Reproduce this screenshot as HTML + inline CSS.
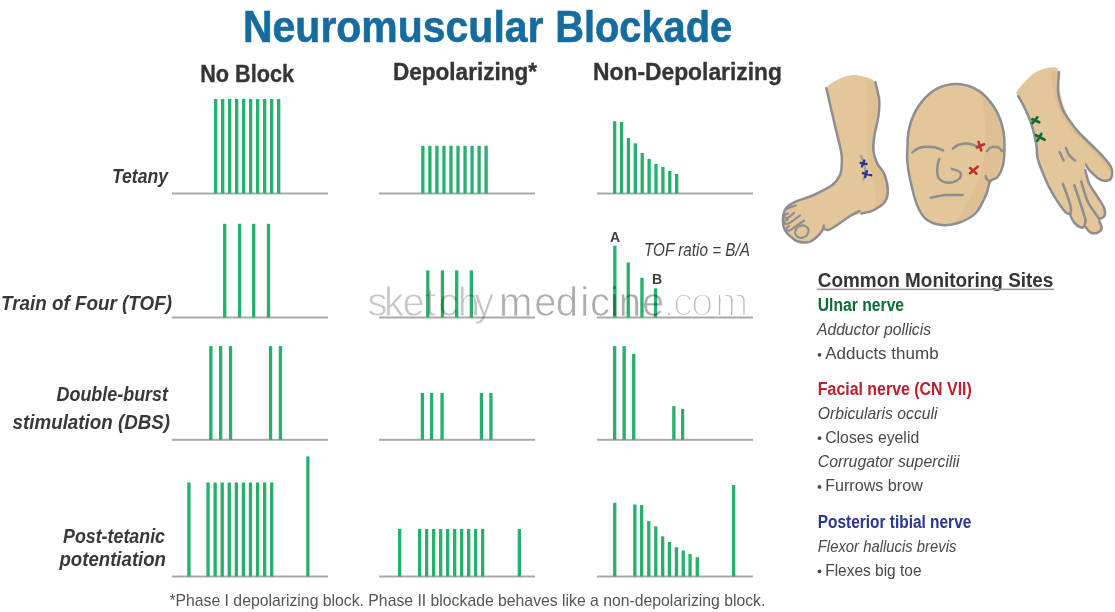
<!DOCTYPE html>
<html><head><meta charset="utf-8">
<style>
html,body{margin:0;padding:0;background:#fff;}
body{width:1115px;height:612px;overflow:hidden;}
svg{display:block;}
text{font-family:"Liberation Sans",sans-serif;}
</style></head>
<body>
<svg width="1115" height="612" viewBox="0 0 1115 612">
<rect width="1115" height="612" fill="#fff"/>
<!-- title -->
<g font-size="44" font-weight="bold" fill="#166c9f" stroke="#166c9f" stroke-width="0.6"><text x="243" y="42" textLength="300.5" lengthAdjust="spacingAndGlyphs">Neuromuscular</text><text x="555.2" y="42" textLength="177" lengthAdjust="spacingAndGlyphs">Blockade</text></g>
<!-- column headers -->
<g fill="#353538" stroke="#353538" stroke-width="0.35" font-weight="bold" font-size="23.5">
<text x="200.2" y="82" textLength="94" lengthAdjust="spacingAndGlyphs">No Block</text>
<text x="393" y="80" textLength="144" lengthAdjust="spacingAndGlyphs">Depolarizing*</text>
<text x="593" y="80" textLength="189" lengthAdjust="spacingAndGlyphs">Non-Depolarizing</text>
</g>
<!-- row labels -->
<g fill="#38383b" font-weight="bold" font-style="italic" font-size="20.5">
<text x="112" y="183" textLength="56" lengthAdjust="spacingAndGlyphs">Tetany</text>
<text x="1" y="310" textLength="171" lengthAdjust="spacingAndGlyphs">Train of Four (TOF)</text>
<text x="56.5" y="401" textLength="111.5" lengthAdjust="spacingAndGlyphs">Double-burst</text>
<text x="12.6" y="429" textLength="157.4" lengthAdjust="spacingAndGlyphs">stimulation (DBS)</text>
<text x="63" y="542.8" textLength="102" lengthAdjust="spacingAndGlyphs">Post-tetanic</text>
<text x="59.5" y="566.4" textLength="106.5" lengthAdjust="spacingAndGlyphs">potentiation</text>
</g>
<!-- baselines -->
<g fill="#a7a9ac">
<rect x="172" y="192.50" width="156" height="2"/>
<rect x="379" y="192.50" width="156" height="2"/>
<rect x="597" y="192.50" width="156" height="2"/>
<rect x="172" y="316.50" width="156" height="2"/>
<rect x="379" y="316.50" width="156" height="2"/>
<rect x="597" y="316.50" width="156" height="2"/>
<rect x="172" y="438.80" width="156" height="2"/>
<rect x="379" y="438.80" width="156" height="2"/>
<rect x="597" y="438.80" width="156" height="2"/>
<rect x="172" y="575.50" width="156" height="2"/>
<rect x="379" y="575.50" width="156" height="2"/>
<rect x="597" y="575.50" width="156" height="2"/>
</g>
<!-- bars -->
<g fill="#25b06b">
<rect x="214.00" y="99.00" width="3.3" height="94.50"/>
<rect x="221.00" y="99.00" width="3.3" height="94.50"/>
<rect x="228.00" y="99.00" width="3.3" height="94.50"/>
<rect x="235.00" y="99.00" width="3.3" height="94.50"/>
<rect x="242.00" y="99.00" width="3.3" height="94.50"/>
<rect x="249.00" y="99.00" width="3.3" height="94.50"/>
<rect x="256.00" y="99.00" width="3.3" height="94.50"/>
<rect x="263.00" y="99.00" width="3.3" height="94.50"/>
<rect x="270.00" y="99.00" width="3.3" height="94.50"/>
<rect x="277.00" y="99.00" width="3.3" height="94.50"/>
<rect x="421.20" y="145.80" width="3.3" height="47.70"/>
<rect x="428.23" y="145.80" width="3.3" height="47.70"/>
<rect x="435.26" y="145.80" width="3.3" height="47.70"/>
<rect x="442.29" y="145.80" width="3.3" height="47.70"/>
<rect x="449.32" y="145.80" width="3.3" height="47.70"/>
<rect x="456.35" y="145.80" width="3.3" height="47.70"/>
<rect x="463.38" y="145.80" width="3.3" height="47.70"/>
<rect x="470.41" y="145.80" width="3.3" height="47.70"/>
<rect x="477.44" y="145.80" width="3.3" height="47.70"/>
<rect x="484.47" y="145.80" width="3.3" height="47.70"/>
<rect x="613.00" y="121.25" width="3.3" height="72.25"/>
<rect x="619.89" y="122.00" width="3.3" height="71.50"/>
<rect x="626.78" y="138.00" width="3.3" height="55.50"/>
<rect x="633.67" y="143.30" width="3.3" height="50.20"/>
<rect x="640.56" y="153.00" width="3.3" height="40.50"/>
<rect x="647.45" y="159.00" width="3.3" height="34.50"/>
<rect x="654.34" y="164.00" width="3.3" height="29.50"/>
<rect x="661.23" y="167.00" width="3.3" height="26.50"/>
<rect x="668.12" y="171.00" width="3.3" height="22.50"/>
<rect x="675.01" y="174.00" width="3.3" height="19.50"/>
<rect x="223.05" y="223.80" width="3.3" height="93.70"/>
<rect x="237.90" y="223.80" width="3.3" height="93.70"/>
<rect x="252.05" y="223.80" width="3.3" height="93.70"/>
<rect x="266.85" y="223.80" width="3.3" height="93.70"/>
<rect x="426.15" y="270.40" width="3.3" height="47.10"/>
<rect x="440.80" y="270.40" width="3.3" height="47.10"/>
<rect x="455.05" y="270.40" width="3.3" height="47.10"/>
<rect x="469.70" y="270.40" width="3.3" height="47.10"/>
<rect x="613.20" y="245.70" width="3.3" height="71.80"/>
<rect x="626.60" y="262.50" width="3.3" height="55.00"/>
<rect x="640.30" y="277.80" width="3.3" height="39.70"/>
<rect x="653.90" y="288.40" width="3.3" height="29.10"/>
<rect x="209.20" y="346.10" width="3.3" height="93.70"/>
<rect x="219.00" y="346.10" width="3.3" height="93.70"/>
<rect x="228.90" y="346.10" width="3.3" height="93.70"/>
<rect x="268.90" y="346.10" width="3.3" height="93.70"/>
<rect x="278.80" y="346.10" width="3.3" height="93.70"/>
<rect x="420.70" y="393.00" width="3.3" height="46.80"/>
<rect x="429.90" y="393.00" width="3.3" height="46.80"/>
<rect x="440.40" y="393.00" width="3.3" height="46.80"/>
<rect x="479.80" y="393.00" width="3.3" height="46.80"/>
<rect x="489.30" y="393.00" width="3.3" height="46.80"/>
<rect x="613.00" y="346.10" width="3.3" height="93.70"/>
<rect x="622.50" y="346.10" width="3.3" height="93.70"/>
<rect x="632.06" y="353.90" width="3.3" height="85.90"/>
<rect x="672.20" y="406.10" width="3.3" height="33.70"/>
<rect x="681.00" y="409.00" width="3.3" height="30.80"/>
<rect x="187.30" y="482.50" width="3.3" height="94.00"/>
<rect x="206.40" y="482.50" width="3.3" height="94.00"/>
<rect x="213.47" y="482.50" width="3.3" height="94.00"/>
<rect x="220.54" y="482.50" width="3.3" height="94.00"/>
<rect x="227.61" y="482.50" width="3.3" height="94.00"/>
<rect x="234.68" y="482.50" width="3.3" height="94.00"/>
<rect x="241.75" y="482.50" width="3.3" height="94.00"/>
<rect x="248.82" y="482.50" width="3.3" height="94.00"/>
<rect x="255.89" y="482.50" width="3.3" height="94.00"/>
<rect x="262.96" y="482.50" width="3.3" height="94.00"/>
<rect x="270.03" y="482.50" width="3.3" height="94.00"/>
<rect x="306.20" y="456.50" width="3.3" height="120.00"/>
<rect x="398.00" y="529.00" width="3.3" height="47.50"/>
<rect x="418.00" y="529.00" width="3.3" height="47.50"/>
<rect x="425.00" y="529.00" width="3.3" height="47.50"/>
<rect x="432.00" y="529.00" width="3.3" height="47.50"/>
<rect x="439.00" y="529.00" width="3.3" height="47.50"/>
<rect x="446.00" y="529.00" width="3.3" height="47.50"/>
<rect x="453.00" y="529.00" width="3.3" height="47.50"/>
<rect x="460.00" y="529.00" width="3.3" height="47.50"/>
<rect x="467.00" y="529.00" width="3.3" height="47.50"/>
<rect x="474.00" y="529.00" width="3.3" height="47.50"/>
<rect x="481.00" y="529.00" width="3.3" height="47.50"/>
<rect x="517.70" y="529.00" width="3.3" height="47.50"/>
<rect x="613.10" y="502.80" width="3.3" height="73.70"/>
<rect x="633.20" y="504.50" width="3.3" height="72.00"/>
<rect x="640.00" y="505.10" width="3.3" height="71.40"/>
<rect x="647.10" y="521.10" width="3.3" height="55.40"/>
<rect x="654.10" y="526.30" width="3.3" height="50.20"/>
<rect x="661.00" y="536.40" width="3.3" height="40.10"/>
<rect x="667.80" y="542.00" width="3.3" height="34.50"/>
<rect x="674.80" y="547.20" width="3.3" height="29.30"/>
<rect x="681.60" y="550.50" width="3.3" height="26.00"/>
<rect x="688.40" y="554.10" width="3.3" height="22.40"/>
<rect x="695.60" y="557.20" width="3.3" height="19.30"/>
<rect x="732.00" y="485.00" width="3.3" height="91.50"/>
</g>
<!-- watermark -->
<g style="mix-blend-mode:multiply" font-size="40" stroke="#fff"><text x="367.5 384.0 402.4 425.1 438.5 457.8 473.9" y="316" fill="#c5c5c5" stroke-width="0.8">sketchy</text><text x="498.9 534.3 555.8 580.3 590.1 610.0 618.7 641.9" y="316" fill="#acacac" stroke-width="0.7">medicine</text><text x="663.5 672.9 691.1 715.0" y="316" fill="#bababa" stroke-width="2.1">.com</text></g>
<!-- TOF labels -->
<g fill="#3f3f42" font-weight="bold" font-size="14">
<text x="610" y="242">A</text>
<text x="652" y="283.5">B</text>
</g>
<text x="644" y="255.5" font-size="18" font-style="italic" fill="#3f3f42" textLength="106" lengthAdjust="spacingAndGlyphs">TOF ratio = B/A</text>
<!-- illustrations -->
<path d="M826.4,88.3 C827.8,84.4 833.9,81.7 838.0,79.5 C842.1,77.3 846.7,75.7 850.9,75.2 C855.1,74.7 858.9,75.3 863.0,76.5 C867.1,77.7 872.7,78.3 875.4,82.2 C878.1,86.1 878.7,94.4 879.2,100.0 C879.7,105.6 879.3,109.8 878.5,115.7 C877.7,121.6 875.4,129.6 874.5,135.3 C873.6,141.0 872.9,145.4 873.3,150.0 C873.7,154.6 875.1,158.9 877.0,163.0 C878.9,167.1 882.7,169.8 884.5,174.5 C886.3,179.2 887.8,186.3 887.8,190.9 C887.8,195.5 887.0,199.0 884.5,202.3 C882.0,205.6 879.0,208.1 873.0,210.5 C867.0,212.9 854.5,214.6 848.6,217.0 C842.7,219.4 840.8,222.6 837.5,224.7 C834.2,226.8 831.5,228.8 829.0,229.8 C826.5,230.8 824.3,229.4 822.2,230.7 C820.1,232.0 818.2,235.7 816.2,237.5 C814.2,239.3 812.4,240.8 810.3,241.7 C808.2,242.5 805.8,242.7 803.5,242.6 C801.2,242.5 798.6,241.8 796.7,241.0 C794.8,240.2 793.7,239.1 792.1,237.8 C790.5,236.5 788.3,234.7 786.9,233.0 C785.5,231.3 784.4,229.5 783.8,227.5 C783.1,225.5 783.1,223.2 783.0,221.1 C782.9,219.0 782.7,217.2 783.3,215.0 C783.9,212.8 784.5,209.9 786.5,207.7 C788.5,205.5 790.5,203.9 795.0,201.8 C799.5,199.7 807.5,197.8 813.7,195.0 C819.9,192.2 827.8,188.5 832.2,185.1 C836.6,181.7 838.6,178.2 840.2,174.5 C841.8,170.8 841.6,166.8 841.8,163.0 C841.9,159.2 842.3,158.1 841.1,151.6 C839.9,145.1 836.5,132.1 834.6,123.9 C832.7,115.8 831.1,108.6 829.7,102.7 C828.3,96.8 825.0,92.2 826.4,88.3Z" fill="#e4c69b"/>
<path d="M865,79 C870,100 866,130 867,150 C870,175 880,195 874,210 L884,203 C890,190 886,172 876,160 C872,140 881,110 876,82Z" fill="#d9b98e" opacity="0.5"/>
<path d="M875.4,82.2 C876.0,85.2 878.7,94.4 879.2,100.0 C879.7,105.6 879.3,109.8 878.5,115.7 C877.7,121.6 875.4,129.6 874.5,135.3 C873.6,141.0 872.9,145.4 873.3,150.0 C873.7,154.6 875.1,158.9 877.0,163.0 C878.9,167.1 882.7,169.8 884.5,174.5 C886.3,179.2 887.8,186.3 887.8,190.9 C887.8,195.5 887.0,199.0 884.5,202.3 C882.0,205.6 876.8,208.6 873.0,210.5 C869.2,212.4 863.4,213.0 861.5,213.5" fill="none" stroke="#8e8e90" stroke-width="2.5" stroke-linecap="round" stroke-linejoin="round"/>
<path d="M859.5,211.0 C857.7,212.0 852.3,214.7 848.6,217.0 C844.9,219.3 840.8,222.6 837.5,224.7 C834.2,226.8 831.2,229.1 829.0,229.8 C826.8,230.5 825.1,229.1 824.3,229.0" fill="none" stroke="#8e8e90" stroke-width="2.5" stroke-linecap="round" stroke-linejoin="round"/>
<path d="M823.9,225.6 C823.6,226.4 823.5,228.7 822.2,230.7 C820.9,232.7 818.2,235.7 816.2,237.5 C814.2,239.3 812.4,240.8 810.3,241.7 C808.2,242.5 805.8,242.7 803.5,242.6 C801.2,242.5 798.6,241.8 796.7,241.0 C794.8,240.2 793.7,239.1 792.1,237.8 C790.5,236.5 788.3,234.7 786.9,233.0 C785.5,231.3 784.4,229.5 783.8,227.5 C783.1,225.5 783.1,223.2 783.0,221.1 C782.9,219.0 782.7,217.2 783.3,215.0 C783.9,212.8 784.5,209.9 786.5,207.7 C788.5,205.5 790.5,203.9 795.0,201.8 C799.5,199.7 807.5,197.8 813.7,195.0 C819.9,192.2 827.8,188.5 832.2,185.1 C836.6,181.7 838.6,178.2 840.2,174.5 C841.8,170.8 841.6,166.8 841.8,163.0 C841.9,159.2 842.3,158.1 841.1,151.6 C839.9,145.1 836.5,132.1 834.6,123.9 C832.7,115.8 831.1,108.6 829.7,102.7 C828.3,96.8 827.0,90.7 826.4,88.3" fill="none" stroke="#8e8e90" stroke-width="2.5" stroke-linecap="round" stroke-linejoin="round"/>
<path d="M786.7,209.0 C787.4,208.7 789.5,207.6 791.0,207.0 C792.5,206.4 794.9,205.7 795.7,205.4" fill="none" stroke="#8e8e90" stroke-width="2.1" stroke-linecap="round" stroke-linejoin="round"/>
<path d="M788.0,213.6 C787.5,213.8 785.9,214.1 785.3,214.6 C784.7,215.1 784.2,216.0 784.4,216.6 C784.5,217.2 785.4,218.0 786.2,218.0 C787.1,218.0 788.2,217.7 789.5,216.8 C790.8,215.9 793.4,213.4 794.2,212.7" fill="none" stroke="#8e8e90" stroke-width="2.1" stroke-linecap="round" stroke-linejoin="round"/>
<path d="M787.8,219.6 C787.3,219.8 785.2,220.4 784.6,221.0 C784.0,221.6 783.9,222.7 784.3,223.2 C784.7,223.7 785.8,224.3 787.2,223.9 C788.7,223.5 790.9,222.0 793.0,220.6 C795.1,219.2 798.8,216.3 800.0,215.4" fill="none" stroke="#8e8e90" stroke-width="2.1" stroke-linecap="round" stroke-linejoin="round"/>
<path d="M789.2,226.0 C788.8,226.3 786.8,227.2 786.5,228.0 C786.2,228.8 786.9,230.3 787.6,230.6 C788.4,230.9 789.4,230.7 791.0,229.8 C792.6,228.9 795.3,226.6 797.5,225.0 C799.7,223.4 803.1,221.2 804.2,220.5" fill="none" stroke="#8e8e90" stroke-width="2.1" stroke-linecap="round" stroke-linejoin="round"/>
<ellipse cx="801.8" cy="231.6" rx="7.0" ry="6.0" transform="rotate(-30 801.8 231.6)" fill="none" stroke="#8e8e90" stroke-width="2.1"/>
<path d="M861.2,155.7 C861.6,156.9 862.8,160.8 863.5,163.0 C864.2,165.2 865.0,166.9 865.2,168.9 C865.4,170.9 865.1,173.2 864.8,175.0 C864.5,176.8 863.6,178.9 863.4,179.7" fill="none" stroke="#9d9d9f" stroke-width="2.2" stroke-linecap="round" stroke-linejoin="round"/>
<path d="M860.6,162.9 L866.6,164 M864.3,160.6 L862,166.3" stroke="#2a3391" stroke-width="2.4" stroke-linecap="round" fill="none"/>
<path d="M862.9,173.2 L871.2,175.2 M866.9,171.2 L865.2,176.9" stroke="#2a3391" stroke-width="2.4" stroke-linecap="round" fill="none"/>
<path d="M907.5,145 A48.5,61 0 0 1 1004.5,145 C1004.5,149.3 1004.5,152.5 1004.2,156.0 C1003.9,159.5 1003.9,162.5 1002.8,166.0 C1001.7,169.5 999.6,174.4 997.5,177.0 C995.4,179.6 992.0,178.5 990.1,181.4 C988.2,184.3 988.6,189.1 986.2,194.4 C983.8,199.7 980.4,208.3 975.8,213.0 C971.2,217.7 964.5,220.8 958.8,222.8 C953.1,224.8 947.2,225.6 941.8,225.0 C936.3,224.4 930.2,222.5 926.1,219.2 C922.0,215.8 919.7,211.8 917.0,204.9 C914.3,198.0 911.4,185.5 909.8,178.0 C908.2,170.5 907.6,165.5 907.2,160.0 C906.8,154.5 907.5,150.0 907.5,145.0Z" fill="#e4c69b"/>
<path d="M978,88 C996,100 1004,125 1003,150 C1001,170 990,182 984,200 C978,212 968,220 955,223 C970,200 982,180 985,150 C987,125 985,105 978,88Z" fill="#d9b98e" opacity="0.5"/>
<path d="M907.5,145 A48.5,61 0 0 1 1004.5,145 C1004.5,149.3 1004.5,152.5 1004.2,156.0 C1003.9,159.5 1003.9,162.5 1002.8,166.0 C1001.7,169.5 999.6,174.4 997.5,177.0 C995.4,179.6 992.0,178.5 990.1,181.4 C988.2,184.3 988.6,189.1 986.2,194.4 C983.8,199.7 980.4,208.3 975.8,213.0 C971.2,217.7 964.5,220.8 958.8,222.8 C953.1,224.8 947.2,225.6 941.8,225.0 C936.3,224.4 930.2,222.5 926.1,219.2 C922.0,215.8 919.7,211.8 917.0,204.9 C914.3,198.0 911.4,185.5 909.8,178.0 C908.2,170.5 907.6,165.5 907.2,160.0 C906.8,154.5 907.5,150.0 907.5,145.0Z" fill="none" stroke="#8e8e90" stroke-width="2.5"/>
<path d="M912.4,152.5 C913.3,151.8 915.7,149.4 918.0,148.5 C920.3,147.6 923.3,147.0 926.1,146.8 C928.9,146.6 932.2,146.9 935.0,147.5 C937.8,148.1 941.8,150.0 943.1,150.5" fill="none" stroke="#8e8e90" stroke-width="2.5" stroke-linecap="round" stroke-linejoin="round"/>
<path d="M952.9,148.6 C953.8,148.0 955.9,145.8 958.0,145.0 C960.1,144.2 963.0,143.7 965.3,143.6 C967.6,143.5 970.0,144.0 972.0,144.5 C974.0,145.0 976.2,146.2 977.1,146.6" fill="none" stroke="#8e8e90" stroke-width="2.5" stroke-linecap="round" stroke-linejoin="round"/>
<path d="M986.9,151.2 C987.4,150.7 988.8,148.7 990.0,148.0 C991.2,147.3 992.5,146.8 994.0,146.8 C995.5,146.8 997.7,147.3 999.0,148.0 C1000.3,148.7 1001.5,150.5 1002.0,151.0" fill="none" stroke="#8e8e90" stroke-width="2.5" stroke-linecap="round" stroke-linejoin="round"/>
<path d="M939.2,159.1 C938.9,160.6 937.2,165.0 937.2,168.3 C937.2,171.6 937.1,176.3 939.2,178.7 C941.3,181.1 946.2,182.7 949.6,182.7 C953.0,182.7 957.6,180.4 959.4,178.7 C961.1,176.9 961.4,173.8 960.1,172.2 C958.8,170.6 953.0,169.4 951.6,168.9" fill="none" stroke="#8e8e90" stroke-width="2.5" stroke-linecap="round" stroke-linejoin="round"/>
<path d="M930.7,197.7 C933.2,197.3 940.4,195.5 945.7,195.1 C951.0,194.7 959.9,195.1 962.7,195.1" fill="none" stroke="#8e8e90" stroke-width="2.5" stroke-linecap="round" stroke-linejoin="round"/>
<path d="M985.6,176.1 C985.8,176.7 986.2,178.6 987.0,179.5 C987.8,180.4 989.6,181.1 990.1,181.4" fill="none" stroke="#8e8e90" stroke-width="2.5" stroke-linecap="round" stroke-linejoin="round"/>
<path d="M978.6,142 L981.2,150.4 M976.8,147.5 L984.1,144.2" stroke="#c2322c" stroke-width="2.6" stroke-linecap="round" fill="none"/>
<path d="M970.1,168.1 L976.4,173.6 M970.1,173.2 L977.9,166.6" stroke="#c2322c" stroke-width="2.6" stroke-linecap="round" fill="none"/>
<path d="M1017.3,91.0 C1020.0,87.2 1028.6,77.0 1034.5,73.1 C1040.4,69.1 1048.4,67.4 1052.5,67.3 C1056.6,67.2 1058.0,68.0 1059.0,72.2 C1060.0,76.4 1057.5,86.4 1058.2,92.7 C1058.9,99.0 1061.2,105.5 1063.0,110.0 C1064.8,114.5 1066.8,116.4 1069.3,120.0 C1071.8,123.6 1074.2,127.2 1077.9,131.4 C1081.6,135.6 1087.4,140.9 1091.6,145.1 C1095.8,149.3 1099.8,152.9 1103.0,156.6 C1106.2,160.2 1109.5,163.9 1111.0,167.0 C1112.5,170.1 1112.5,172.8 1112.1,175.0 C1111.7,177.2 1110.7,179.6 1108.6,180.3 C1106.5,181.0 1102.6,180.8 1099.4,179.1 C1096.2,177.4 1091.5,172.4 1089.2,170.0 C1087.0,167.6 1086.6,164.5 1085.9,164.6 C1085.2,164.7 1084.8,167.1 1085.3,170.3 C1085.8,173.5 1087.2,179.4 1089.2,183.7 C1091.2,188.0 1094.7,192.3 1097.2,196.3 C1099.7,200.3 1102.8,204.5 1104.0,207.7 C1105.2,210.9 1105.4,213.8 1104.6,215.7 C1103.8,217.6 1099.9,217.1 1099.4,219.2 C1098.9,221.3 1102.1,226.0 1101.7,228.3 C1101.3,230.6 1099.1,232.2 1097.2,232.9 C1095.3,233.6 1092.2,233.2 1090.3,232.3 C1088.4,231.4 1086.8,228.1 1085.7,227.2 C1084.7,226.2 1085.0,226.6 1084.0,226.6 C1083.0,226.6 1081.6,227.9 1080.0,227.2 C1078.4,226.5 1075.9,224.5 1074.3,222.6 C1072.7,220.7 1071.6,217.3 1070.3,215.7 C1069.0,214.1 1068.1,214.8 1066.3,212.9 C1064.5,211.0 1062.3,208.6 1059.4,204.3 C1056.5,200.0 1052.0,192.8 1049.1,187.1 C1046.1,181.4 1043.6,174.8 1041.7,170.0 C1039.8,165.2 1038.4,162.2 1037.5,158.0 C1036.6,153.8 1037.3,150.3 1036.4,145.0 C1035.5,139.7 1033.8,131.8 1032.0,126.0 C1030.2,120.2 1027.9,115.0 1025.6,110.0 C1023.3,105.0 1019.6,99.1 1018.2,95.9 C1016.8,92.7 1014.6,94.8 1017.3,91.0Z" fill="#e4c69b"/>
<path d="M1051,70 C1051,95 1060,118 1074,133 C1089,147 1101,158 1109,172 L1112,168 C1103,156 1091,145 1077.9,131.4 C1066,118 1058,95 1059,72Z" fill="#d9b98e" opacity="0.6"/>
<path d="M1059.0,72.2 C1058.9,75.6 1057.5,86.4 1058.2,92.7 C1058.9,99.0 1061.2,105.5 1063.0,110.0 C1064.8,114.5 1066.8,116.4 1069.3,120.0 C1071.8,123.6 1074.2,127.2 1077.9,131.4 C1081.6,135.6 1087.4,140.9 1091.6,145.1 C1095.8,149.3 1099.8,152.9 1103.0,156.6 C1106.2,160.2 1109.5,163.9 1111.0,167.0 C1112.5,170.1 1112.5,172.8 1112.1,175.0 C1111.7,177.2 1110.7,179.6 1108.6,180.3 C1106.5,181.0 1102.6,180.8 1099.4,179.1 C1096.2,177.4 1091.5,172.4 1089.2,170.0 C1087.0,167.6 1086.5,165.5 1085.9,164.6" fill="none" stroke="#8e8e90" stroke-width="2.5" stroke-linecap="round" stroke-linejoin="round"/>
<path d="M1085.3,170.3 C1086.0,172.5 1087.2,179.4 1089.2,183.7 C1091.2,188.0 1094.7,192.3 1097.2,196.3 C1099.7,200.3 1102.8,204.5 1104.0,207.7 C1105.2,210.9 1105.4,213.8 1104.6,215.7 C1103.8,217.6 1100.3,218.6 1099.4,219.2" fill="none" stroke="#8e8e90" stroke-width="2.5" stroke-linecap="round" stroke-linejoin="round"/>
<path d="M1099.4,221.4 C1099.8,222.6 1102.1,226.4 1101.7,228.3 C1101.3,230.2 1099.1,232.2 1097.2,232.9 C1095.3,233.6 1092.2,233.2 1090.3,232.3 C1088.4,231.4 1086.5,228.0 1085.7,227.2" fill="none" stroke="#8e8e90" stroke-width="2.5" stroke-linecap="round" stroke-linejoin="round"/>
<path d="M1085.7,220.3 C1085.4,221.4 1085.0,225.4 1084.0,226.6 C1083.0,227.8 1081.6,227.9 1080.0,227.2 C1078.4,226.5 1075.9,224.5 1074.3,222.6 C1072.7,220.7 1071.0,216.8 1070.3,215.7" fill="none" stroke="#8e8e90" stroke-width="2.5" stroke-linecap="round" stroke-linejoin="round"/>
<path d="M1070.3,214.0 C1069.6,213.8 1068.1,214.5 1066.3,212.9 C1064.5,211.3 1062.3,208.6 1059.4,204.3 C1056.5,200.0 1052.0,192.8 1049.1,187.1 C1046.1,181.4 1043.6,174.8 1041.7,170.0 C1039.8,165.2 1038.4,162.2 1037.5,158.0 C1036.6,153.8 1037.3,150.3 1036.4,145.0 C1035.5,139.7 1033.8,131.8 1032.0,126.0 C1030.2,120.2 1027.9,115.0 1025.6,110.0 C1023.3,105.0 1019.4,98.2 1018.2,95.9" fill="none" stroke="#8e8e90" stroke-width="2.5" stroke-linecap="round" stroke-linejoin="round"/>
<path d="M1062.9,183.7 C1063.6,185.6 1065.7,191.0 1067.0,195.0 C1068.3,199.0 1070.4,204.5 1070.9,207.7 C1071.5,210.9 1070.4,212.9 1070.3,214.0" fill="none" stroke="#8e8e90" stroke-width="2.5" stroke-linecap="round" stroke-linejoin="round"/>
<path d="M1074.3,185.4 C1075.2,188.2 1078.1,196.2 1080.0,202.0 C1081.9,207.8 1084.8,217.2 1085.7,220.3" fill="none" stroke="#8e8e90" stroke-width="2.5" stroke-linecap="round" stroke-linejoin="round"/>
<path d="M1081.2,181.4 C1082.3,184.8 1085.0,195.7 1088.0,202.0 C1091.0,208.3 1097.5,216.3 1099.4,219.2" fill="none" stroke="#8e8e90" stroke-width="2.5" stroke-linecap="round" stroke-linejoin="round"/>
<path d="M1059.6,152.0 C1059.9,152.7 1060.8,154.6 1061.5,156.0 C1062.2,157.4 1063.2,159.8 1063.6,160.6" fill="none" stroke="#8e8e90" stroke-width="2.5" stroke-linecap="round" stroke-linejoin="round"/>
<path d="M1065.9,148.0 C1066.4,149.2 1067.5,152.9 1069.0,155.0 C1070.5,157.1 1074.0,159.7 1075.0,160.6" fill="none" stroke="#8e8e90" stroke-width="2.5" stroke-linecap="round" stroke-linejoin="round"/>
<path d="M1032.4,123.2 L1037.3,117.4 M1032.4,119.2 L1039.3,122.3" stroke="#12693a" stroke-width="2.7" stroke-linecap="round" fill="none"/>
<path d="M1035.9,135.2 L1044.7,139.7 M1041.3,134 L1037.3,140.9" stroke="#12693a" stroke-width="2.7" stroke-linecap="round" fill="none"/>
<!-- monitoring sites -->
<g font-size="16.5">
<text x="817.8" y="286.8" font-size="20" font-weight="bold" fill="#353538" textLength="235.6" lengthAdjust="spacingAndGlyphs">Common Monitoring Sites</text>
<rect x="817" y="288.6" width="237" height="1.5" fill="#9a9a9c"/>
<text x="817.8" y="310.8" font-size="17.5" font-weight="bold" fill="#0e6b37" textLength="86.3" lengthAdjust="spacingAndGlyphs">Ulnar nerve</text>
<text x="817" y="335" font-style="italic" fill="#48484b" textLength="114" lengthAdjust="spacingAndGlyphs">Adductor pollicis</text>
<circle cx="819.5" cy="354.8" r="1.9" fill="#48484b"/><text x="825.2" y="359.1" fill="#48484b" textLength="113.4" lengthAdjust="spacingAndGlyphs">Adducts thumb</text>
<text x="817.8" y="395.3" font-size="17.5" font-weight="bold" fill="#be1e2d" textLength="154" lengthAdjust="spacingAndGlyphs">Facial nerve (CN VII)</text>
<text x="817.8" y="418.5" font-style="italic" fill="#48484b" textLength="119.7" lengthAdjust="spacingAndGlyphs">Orbicularis occuli</text>
<circle cx="819.5" cy="438.2" r="1.9" fill="#48484b"/><text x="825.2" y="442.5" fill="#48484b" textLength="94" lengthAdjust="spacingAndGlyphs">Closes eyelid</text>
<text x="817.8" y="467.3" font-style="italic" fill="#48484b" textLength="141.7" lengthAdjust="spacingAndGlyphs">Corrugator supercilii</text>
<circle cx="819.5" cy="486.9" r="1.9" fill="#48484b"/><text x="825.2" y="491.2" fill="#48484b" textLength="97.6" lengthAdjust="spacingAndGlyphs">Furrows brow</text>
<text x="817.8" y="528.2" font-size="17.5" font-weight="bold" fill="#2b3592" textLength="153.5" lengthAdjust="spacingAndGlyphs">Posterior tibial nerve</text>
<text x="817.8" y="551.8" font-style="italic" fill="#48484b" textLength="138.6" lengthAdjust="spacingAndGlyphs">Flexor hallucis brevis</text>
<circle cx="819.5" cy="571.4" r="1.9" fill="#48484b"/><text x="825.2" y="575.7" fill="#48484b" textLength="96.3" lengthAdjust="spacingAndGlyphs">Flexes big toe</text>
</g>
<!-- footer -->
<text x="169.4" y="605.6" font-size="17" fill="#555558" textLength="596" lengthAdjust="spacingAndGlyphs">*Phase I depolarizing block. Phase II blockade behaves like a non-depolarizing block.</text>
</svg>
</body></html>
